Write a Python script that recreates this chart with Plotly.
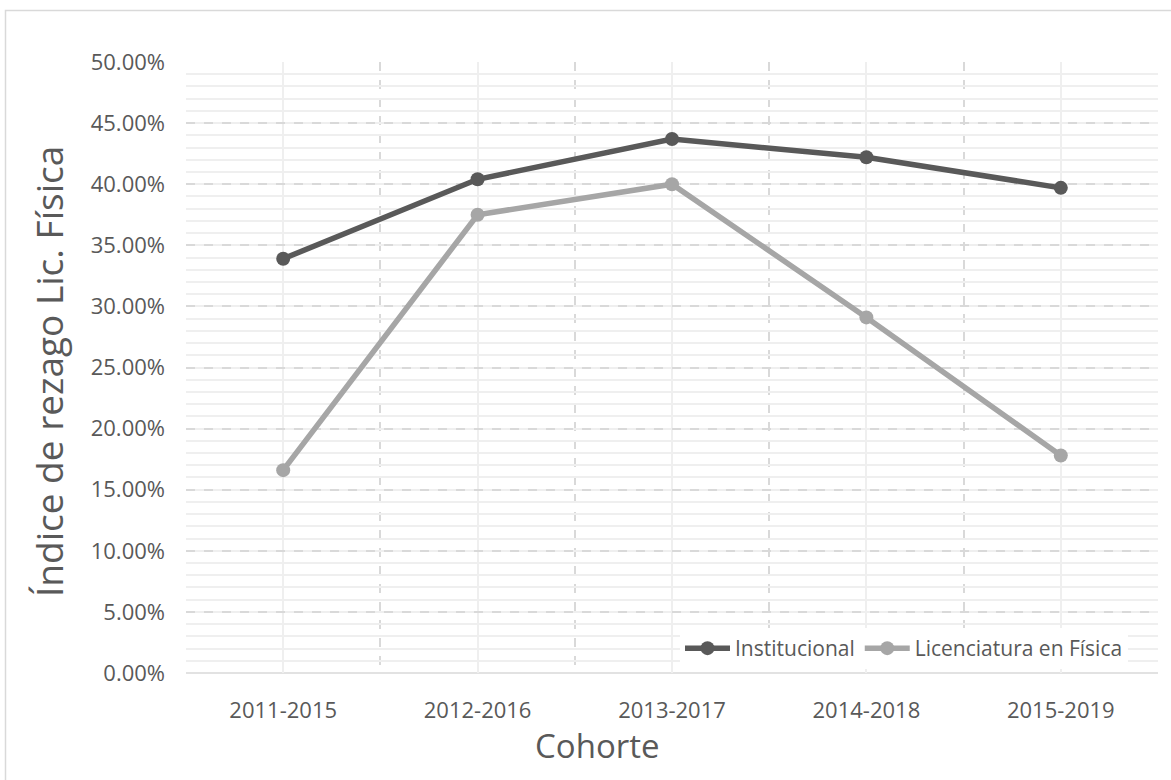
import plotly.graph_objects as go

cohortes = ["2011-2015", "2012-2016", "2013-2017", "2014-2018", "2015-2019"]
institucional = [0.339, 0.404, 0.437, 0.422, 0.397]
licenciatura = [0.166, 0.375, 0.400, 0.291, 0.178]
y_ticks = [0.0, 0.05, 0.10, 0.15, 0.20, 0.25, 0.30, 0.35, 0.40, 0.45, 0.50]

W, H = 1171, 780
L, R, T, B = 186, 13, 62, 107
PW, PH = W - L - R, H - T - B

def px(x):
    return (x - L) / PW

def py(y):
    return (H - B - y) / PH

xs = list(range(len(cohortes)))

fig = go.Figure()
fig.add_trace(go.Scatter(
    x=xs, y=institucional, name="Institucional", mode="lines+markers",
    line=dict(color="#595959", width=5.5), marker=dict(size=14, color="#595959")))
fig.add_trace(go.Scatter(
    x=xs, y=licenciatura, name="Licenciatura en Física", mode="lines+markers",
    line=dict(color="#a6a6a6", width=5.5), marker=dict(size=14, color="#a6a6a6")))

font = "Open Sans"
fig.update_layout(
    width=W, height=H,
    margin=dict(l=L, r=R, t=T, b=B, autoexpand=False),
    paper_bgcolor="white", plot_bgcolor="white",
    font=dict(family=font, color="#595959", size=22),
    showlegend=True,
    legend=dict(orientation="h", x=px(680), y=py(628), xanchor="left", yanchor="top",
                bgcolor="white", font=dict(size=21, color="#595959"),
                itemwidth=45, tracegroupgap=0),
    xaxis=dict(
        range=[-0.5, 4.5], tickvals=xs, ticktext=cohortes,
        showgrid=True, gridcolor="#efefef", gridwidth=1.5,
        zeroline=False, showline=False, ticks="", ticklabelstandoff=22,
        automargin=False, tickfont=dict(size=22),
        minor=dict(tickvals=[-0.5, 0.5, 1.5, 2.5, 3.5, 4.5], showgrid=True,
                   gridcolor="#d9d9d9", griddash="dash", gridwidth=1.5),
    ),
    yaxis=dict(
        range=[0, 0.5], tickvals=y_ticks, tickformat=".2%",
        showgrid=True, gridcolor="#d9d9d9", griddash="dash", gridwidth=1.5,
        zeroline=False, showline=False, ticks="", ticklabelstandoff=20,
        automargin=False, tickfont=dict(size=22),
        minor=dict(dtick=0.01, tick0=0, showgrid=True, gridcolor="#efefef",
                   gridwidth=1.5, griddash="solid"),
    ),
    annotations=[
        dict(text="Índice de rezago Lic. Física", textangle=-90, xref="paper", yref="paper",
             x=px(48), y=py(372), xanchor="center", yanchor="middle", showarrow=False,
             font=dict(size=37, color="#595959", family=font)),
        dict(text="Cohorte", xref="paper", yref="paper",
             x=px(597), y=py(745), xanchor="center", yanchor="middle", showarrow=False,
             font=dict(size=33, color="#595959", family=font)),
    ],
    shapes=[
        dict(type="line", xref="paper", yref="paper", x0=0, x1=1, y0=0, y1=0,
             line=dict(color="#d9d9d9", width=1.5), layer="below"),
        dict(type="rect", xref="paper", yref="paper",
             x0=px(5.5), x1=px(1180), y0=py(790), y1=py(10.5),
             line=dict(color="#d9d9d9", width=1.5), layer="below"),
    ],
)

fig.write_html("out.html", config={"displayModeBar": False},
               post_script="document.body.style.margin='0';document.body.style.overflow='hidden';")
